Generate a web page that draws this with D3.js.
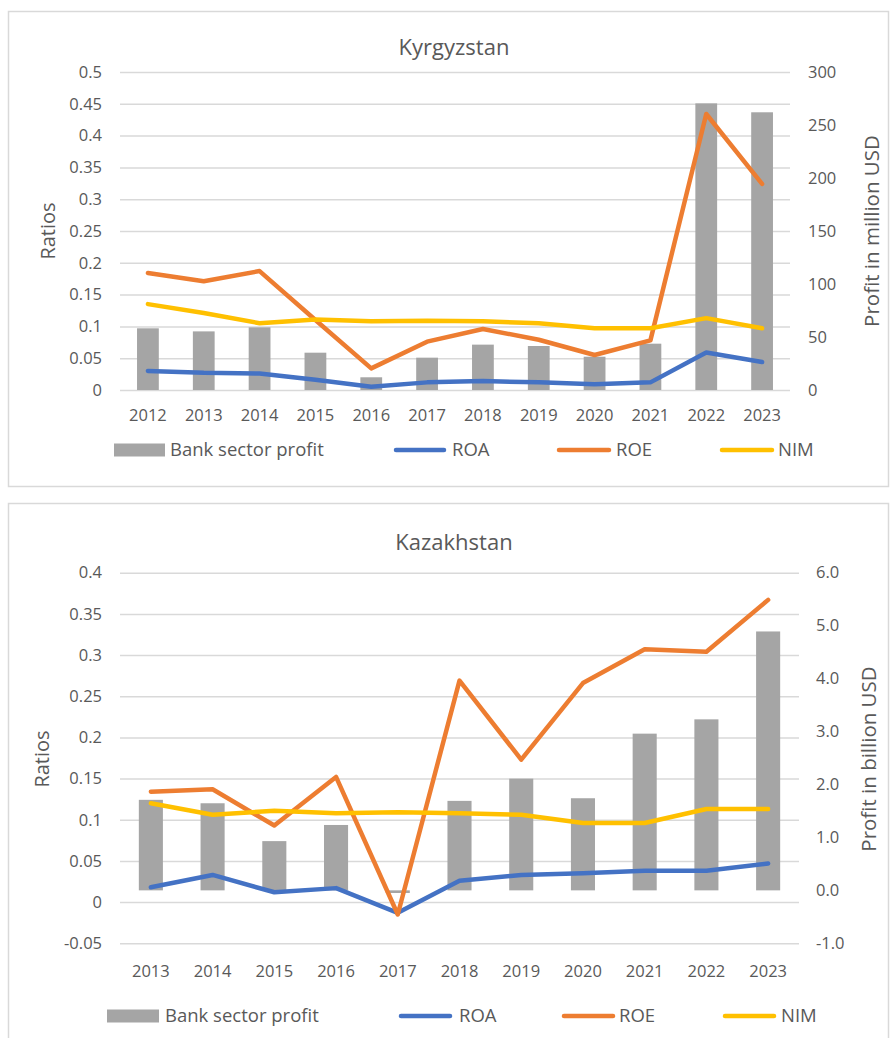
<!DOCTYPE html>
<html>
<head>
<meta charset="utf-8">
<script src="https://cdn.jsdelivr.net/npm/d3@7"></script>
<style>
  html, body { margin: 0; padding: 0; background: #fff; }
  svg { display: block; font-family: "Open Sans", "Noto Sans", sans-serif; }
</style>
</head>
<body>
<svg id="chart" width="891" height="1038"></svg>
<script>
// ---------- Kyrgyzstan ----------
const kgYears = ["2012","2013","2014","2015","2016","2017","2018","2019","2020","2021","2022","2023"];
const kgProfit = [58.2, 55.3, 59.1, 35.2, 12.0, 30.5, 42.8, 41.5, 31.4, 43.7, 270.4, 262.0];
const kgROA = [0.030, 0.027, 0.026, 0.016, 0.005, 0.012, 0.014, 0.012, 0.009, 0.012, 0.059, 0.044];
const kgROE = [0.184, 0.171, 0.187, 0.110, 0.034, 0.076, 0.096, 0.079, 0.055, 0.078, 0.434, 0.324];
const kgNIM = [0.135, 0.121, 0.105, 0.111, 0.108, 0.109, 0.108, 0.105, 0.097, 0.097, 0.113, 0.097];
const kgLeftTicks = [0, 0.05, 0.1, 0.15, 0.2, 0.25, 0.3, 0.35, 0.4, 0.45, 0.5];
const kgLeftLabels = ["0","0.05","0.1","0.15","0.2","0.25","0.3","0.35","0.4","0.45","0.5"];
const kgRightTicks = [0, 50, 100, 150, 200, 250, 300];
const kgRightLabels = ["0","50","100","150","200","250","300"];

// ---------- Kazakhstan ----------
const kzYears = ["2013","2014","2015","2016","2017","2018","2019","2020","2021","2022","2023"];
const kzProfit = [1.71, 1.645, 0.93, 1.235, -0.05, 1.69, 2.11, 1.74, 2.96, 3.23, 4.89];
const kzROA = [0.018, 0.033, 0.012, 0.017, -0.013, 0.026, 0.033, 0.035, 0.038, 0.038, 0.047];
const kzROE = [0.134, 0.137, 0.093, 0.152, -0.015, 0.269, 0.173, 0.266, 0.307, 0.304, 0.367];
const kzNIM = [0.120, 0.106, 0.111, 0.108, 0.109, 0.108, 0.106, 0.096, 0.096, 0.113, 0.113];
const kzLeftTicks = [-0.05, 0, 0.05, 0.1, 0.15, 0.2, 0.25, 0.3, 0.35, 0.4];
const kzLeftLabels = ["-0.05","0","0.05","0.1","0.15","0.2","0.25","0.3","0.35","0.4"];
const kzRightTicks = [-1, 0, 1, 2, 3, 4, 5, 6];
const kzRightLabels = ["-1.0","0.0","1.0","2.0","3.0","4.0","5.0","6.0"];

const seriesNames = ["Bank sector profit", "ROA", "ROE", "NIM"];
const COLORS = { bar: "#A5A5A5", ROA: "#4472C4", ROE: "#ED7D31", NIM: "#FFC000", grid: "#D9D9D9", text: "#595959" };
const TICK_FS = 16.5;

const svg = d3.select("#chart");

function drawChart(cfg) {
  const g = svg.append("g");
  // outer frame
  g.append("rect")
    .attr("x", 8.5).attr("y", cfg.boxTop).attr("width", 880).attr("height", cfg.boxBottom - cfg.boxTop)
    .attr("fill", "#fff").attr("stroke", "#D9D9D9").attr("stroke-width", 1.5);

  const x = d3.scaleBand().domain(cfg.years).range([cfg.x0, cfg.x1]).padding(0);
  const yL = d3.scaleLinear().domain(cfg.leftDomain).range([cfg.yBottom, cfg.yTop]);
  const yR = d3.scaleLinear().domain(cfg.rightDomain).range([cfg.yBottom, cfg.yTop]);
  const bw = x.bandwidth() * 0.39;

  // gridlines (left axis)
  const leftAxis = d3.axisLeft(yL).tickValues(cfg.leftTicks).tickSize(-(cfg.x1 - cfg.x0))
    .tickFormat((d, i) => cfg.leftLabels[i]).tickPadding(18);
  const la = g.append("g").attr("transform", `translate(${cfg.x0},0)`).call(leftAxis);
  la.select(".domain").remove();
  la.selectAll(".tick line").attr("stroke", COLORS.grid).attr("stroke-width", 1.5);
  la.selectAll(".tick text").attr("fill", COLORS.text).attr("font-size", TICK_FS)
    .attr("font-family", "Open Sans, sans-serif");

  // right axis labels only
  const rightAxis = d3.axisRight(yR).tickValues(cfg.rightTicks).tickSize(0)
    .tickFormat((d, i) => cfg.rightLabels[i]).tickPadding(cfg.rightPad);
  const ra = g.append("g").attr("transform", `translate(${cfg.x1},0)`).call(rightAxis);
  ra.select(".domain").remove();
  ra.selectAll(".tick text").attr("fill", COLORS.text).attr("font-size", TICK_FS)
    .attr("font-family", "Open Sans, sans-serif");

  // bars
  g.append("g").selectAll("rect").data(cfg.profit).join("rect")
    .attr("x", (d, i) => x(cfg.years[i]) + x.bandwidth() / 2 - bw / 2)
    .attr("width", bw)
    .attr("y", d => Math.min(yR(d), yR(0)))
    .attr("height", d => Math.abs(yR(d) - yR(0)))
    .attr("fill", COLORS.bar);

  // lines
  const line = d3.line().x((d, i) => x(cfg.years[i]) + x.bandwidth() / 2).y(d => yL(d));
  [["ROA", cfg.roa], ["ROE", cfg.roe], ["NIM", cfg.nim]].forEach(([k, vals]) => {
    g.append("path").datum(vals).attr("d", line)
      .attr("fill", "none").attr("stroke", COLORS[k]).attr("stroke-width", 4.5)
      .attr("stroke-linejoin", "round").attr("stroke-linecap", "round");
  });

  // x axis labels
  const xa = d3.axisBottom(x).tickSize(0).tickPadding(0);
  const xg = g.append("g").attr("transform", `translate(0,${cfg.xLabelY})`).call(xa);
  xg.select(".domain").remove();
  xg.selectAll(".tick text").attr("fill", COLORS.text).attr("font-size", TICK_FS)
    .attr("dy", "0.35em").attr("font-family", "Open Sans, sans-serif");

  // title
  g.append("text").attr("x", 454).attr("y", cfg.titleY).attr("dy", "0.35em")
    .attr("text-anchor", "middle").attr("fill", COLORS.text).attr("font-size", 22)
    .text(cfg.title);

  // axis titles
  g.append("text").attr("transform", `translate(${cfg.leftTitleX},${cfg.axisTitleY}) rotate(-90)`)
    .attr("text-anchor", "middle").attr("dy", "0.35em").attr("fill", COLORS.text)
    .attr("font-size", 20).text("Ratios");
  g.append("text").attr("transform", `translate(${cfg.rightTitleX},${cfg.axisTitleY}) rotate(-90)`)
    .attr("text-anchor", "middle").attr("dy", "0.35em").attr("fill", COLORS.text)
    .attr("font-size", 20.5).text(cfg.rightTitle);

  // legend
  const L = cfg.legend;
  const ly = cfg.legendY;
  const lg = g.append("g");
  lg.append("rect").attr("x", L[0][0]).attr("y", ly - 6.5).attr("width", L[0][1] - L[0][0]).attr("height", 13)
    .attr("fill", COLORS.bar);
  ["ROA", "ROE", "NIM"].forEach((k, j) => {
    lg.append("line").attr("x1", L[j + 1][0] + 2).attr("x2", L[j + 1][1] - 2).attr("y1", ly).attr("y2", ly)
      .attr("stroke", COLORS[k]).attr("stroke-width", 4.5).attr("stroke-linecap", "round");
  });
  seriesNames.forEach((name, j) => {
    lg.append("text").attr("x", L[j][2]).attr("y", ly).attr("dy", "0.35em")
      .attr("fill", COLORS.text).attr("font-size", 18.5).text(name);
  });
}

drawChart({
  title: "Kyrgyzstan", rightTitle: "Profit in million USD",
  years: kgYears, profit: kgProfit, roa: kgROA, roe: kgROE, nim: kgNIM,
  leftTicks: kgLeftTicks, leftLabels: kgLeftLabels, rightTicks: kgRightTicks, rightLabels: kgRightLabels,
  leftDomain: [0, 0.5], rightDomain: [0, 300],
  boxTop: 11.5, boxBottom: 486.5,
  x0: 120, x1: 790, yTop: 72, yBottom: 390, rightPad: 18,
  titleY: 47, xLabelY: 415, legendY: 450, leftTitleX: 48, rightTitleX: 872, axisTitleY: 231,
  legend: [[114, 165, 170], [394, 446, 452], [557, 611, 616], [720, 774, 778]]
});

drawChart({
  title: "Kazakhstan", rightTitle: "Profit in billion USD",
  years: kzYears, profit: kzProfit, roa: kzROA, roe: kzROE, nim: kzNIM,
  leftTicks: kzLeftTicks, leftLabels: kzLeftLabels, rightTicks: kzRightTicks, rightLabels: kzRightLabels,
  leftDomain: [-0.05, 0.4], rightDomain: [-1, 6],
  boxTop: 503.5, boxBottom: 1045,
  x0: 120, x1: 799, yTop: 572.7, yBottom: 943.3, rightPad: 17,
  titleY: 542, xLabelY: 971, legendY: 1016, leftTitleX: 42, rightTitleX: 869, axisTitleY: 759,
  legend: [[107, 159, 165], [399, 452, 459], [562, 615, 619], [723, 776, 781]]
});
</script>
</body>
</html>
